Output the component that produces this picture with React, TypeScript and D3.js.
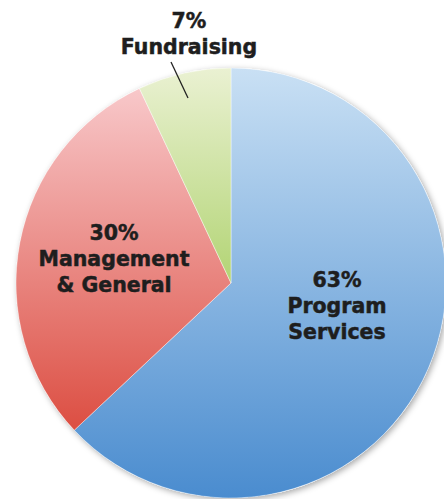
import React from "react";
import * as d3 from "d3";

const categories = ["Program Services", "Management & General", "Fundraising"];
const values = [63, 30, 7];
const labelLines = [["63%", "Program", "Services"], ["30%", "Management", "& General"], ["7%", "Fundraising"]];
const gradTop = ["#c9e0f4", "#f8c8ca", "#eaf1d2"];
const gradBottom = ["#4a8ccf", "#dc4e42", "#b2d474"];

const W = 444, H = 499;
const cx = 231, cy = 283, R = 215;

export default function App() {
  const pie = d3.pie<number>().sort(null).value((d) => d);
  const arcs = pie(values);
  const arc = d3.arc<d3.PieArcDatum<number>>().innerRadius(0).outerRadius(R);
  const labelPos: [number, number][] = [[337, 287], [114, 240], [189, 28]];
  return (
    <svg width={W} height={H} style={{ position: "absolute", left: 0, top: 0 }}>
      <defs>
        {categories.map((c, i) => (
          <linearGradient key={c} id={`g${i}`} x1="0" y1="0" x2="0" y2="1">
            <stop offset="0%" stopColor={gradTop[i]} />
            <stop offset="100%" stopColor={gradBottom[i]} />
          </linearGradient>
        ))}
        <filter id="sh" x="-10%" y="-10%" width="120%" height="120%">
          <feDropShadow dx="2" dy="2" stdDeviation="3" floodColor="#000" floodOpacity="0.35" />
        </filter>
      </defs>
      <rect width={W} height={H} fill="#fff" />
      <g transform={`translate(${cx},${cy})`}>
        <circle r={R} fill="#fff" filter="url(#sh)" />
        {arcs.map((a, i) => (
          <path key={i} d={arc(a) || ""} fill={`url(#g${i})`} stroke="#fff" strokeOpacity={0.5} strokeWidth={0.8} />
        ))}
      </g>
      <line x1={171} y1={62} x2={188} y2={98} stroke="#222" strokeWidth={1.3} />
      {labelLines.map((lines, i) => (
        <text key={i} x={labelPos[i][0]} y={labelPos[i][1]} textAnchor="middle"
          fontFamily="'DejaVu Sans', sans-serif" fontWeight="bold" fontSize={20.5} fill="#1e1e1e"
          stroke="#1e1e1e" strokeWidth={0.5}>
          {lines.map((l, j) => (
            <tspan key={j} x={labelPos[i][0]} dy={j === 0 ? 0 : 26}>{l}</tspan>
          ))}
        </text>
      ))}
    </svg>
  );
}
